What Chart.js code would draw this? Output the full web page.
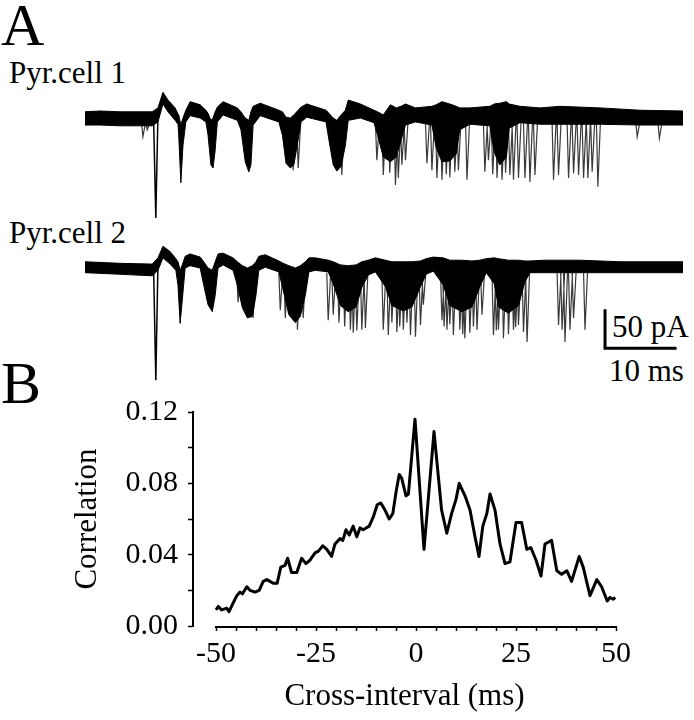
<!DOCTYPE html>
<html>
<head>
<meta charset="utf-8">
<script src="https://cdn.jsdelivr.net/npm/chart.js@4.4.1/dist/chart.umd.min.js"></script>
<style>
body{margin:0;background:#fff;}
#fig{position:relative;width:694px;height:720px;overflow:hidden;font-family:"Liberation Serif","Times New Roman",serif;color:#000;}
.lbl{position:absolute;line-height:1;white-space:nowrap;}
canvas{position:absolute;}
</style>
</head>
<body>
<div id="fig">
	<div class="lbl" style="left:1px;top:-5px;font-size:60px">A</div>
	<div class="lbl" style="left:9px;top:57px;font-size:31px">Pyr.cell 1</div>
	<div class="lbl" style="left:9px;top:217px;font-size:31px">Pyr.cell 2</div>
	<div class="lbl" style="left:612px;top:311px;font-size:31px">50 pA</div>
	<div class="lbl" style="left:609px;top:355px;font-size:31px">10 ms</div>
	<div class="lbl" style="left:1px;top:353px;font-size:60px">B</div>
	<canvas id="cell1" width="598" height="145" style="left:85px;top:83px"></canvas>
	<canvas id="cell2" width="598" height="145" style="left:85px;top:240px"></canvas>
	<canvas id="corrChart" width="694" height="340" style="left:0;top:380px"></canvas>
</div>
<script>
// panel A, cell 1: time (ms), upper / lower edge of the overlaid sweeps (pA)
var cell1T = [0,2.1,4.9,7.7,9.4,10.2,10.9,11.6,12.6,13.0,13.1,13.4,13.7,14.1,14.7,16.1,16.9,17.2,17.6,17.9,18.2,18.5,19.3,21.3,21.8,22.4,22.9,23.2,23.5,24.5,27.1,27.6,28.1,28.7,29.2,29.8,30.2,31.0,33.7,34.1,34.7,35.2,35.8,36.4,36.8,38.5,40.4,40.9,41.7,42.7,43.5,44.2,44.8,46.2,48.5,49.1,49.9,51.0,51.9,52.4,53.8,56.6,57.2,58.0,58.9,59.3,60.8,63.6,66.4,72.0,77.6,83.6];
var cell1Up = [8,9,8,8,8,13,33,23,13,5,4,-9,0,10,21,17,10,6,-3,0,8,14,21,13,8,0,-3,8,15,19,10,8,1,0,4,10,14,18,10,6,0,-3,4,10,23,18,10,8,4,17,13,15,18,13,15,17,21,18,15,13,13,15,18,19,21,18,15,13,15,13,10,9];
var cell1Lo = [-9,-9,-10,-10,-10,-5,18,8,-3,-8,-22,-83,-35,-5,3,0,-5,-22,-60,-64,-41,-5,4,-3,-15,-56,-69,-60,-9,3,-5,-22,-58,-64,-60,-28,-5,1,-5,-28,-60,-68,-62,-35,-3,0,-6,-22,-50,-56,-50,-28,-9,-5,-9,-38,-56,-55,-46,-15,-8,-10,-44,-60,-50,-13,-6,-8,-8,-8,-9,-9];
var cell1SpikeT = [8.1,8.7,29.1,29.8,35.9,40.8,41.7,42.6,43.4,43.8,44.3,44.8,47.8,48.5,49.2,49.9,50.5,51.0,51.7,52.2,53.4,55.9,56.4,57.0,57.6,58.3,58.8,59.4,59.9,60.6,61.5,62.2,62.9,65.5,66.2,67.6,68.3,69.0,69.7,70.3,70.9,71.7,77.2,80.3];
var cell1SpikeDepth = [-24,-15,-67,-64,-73,-54,-73,-70,-86,-77,-60,-54,-58,-67,-77,-79,-72,-76,-69,-67,-79,-69,-54,-72,-77,-79,-70,-73,-79,-77,-77,-82,-73,-79,-73,-77,-71,-73,-77,-77,-69,-88,-24,-26];

// panel A, cell 2
var cell2T = [0,4.9,9.4,10.2,10.9,11.9,12.7,13.0,13.3,13.6,14.0,14.7,16.1,16.6,17.2,17.8,18.2,18.6,19.3,20.7,21.3,22.0,22.7,23.4,23.9,24.3,25.2,27.1,27.7,28.5,29.4,30.1,30.8,31.3,32.2,34.0,34.7,35.7,36.8,37.9,38.7,39.6,40.6,42.0,42.9,44.5,45.7,46.9,47.7,48.7,50.1,51.0,52.7,54.1,55.2,56.1,57.2,57.8,59.2,60.6,61.5,62.2,64.3,69.2,74.8,83.6];
var cell2Up = [8,6,5,13,28,21,12,8,-3,4,15,18,14,8,0,-3,8,18,19,13,8,3,0,3,8,15,17,9,6,3,0,3,8,13,13,10,8,4,3,4,8,10,13,10,8,8,8,9,12,14,13,10,10,9,10,12,13,12,10,10,9,9,10,10,8,8];
var cell2Lo = [-6,-8,-10,-3,13,5,-3,-22,-71,-41,0,3,0,-22,-47,-56,-35,0,4,-3,-22,-51,-64,-62,-35,-3,1,-5,-28,-60,-70,-62,-35,-5,-3,-5,-20,-48,-56,-50,-25,-9,-5,-24,-48,-55,-50,-24,-8,-4,-22,-48,-56,-50,-24,-6,-20,-50,-58,-48,-18,-6,-6,-6,-6,-6];
var cell2SpikeT = [21.4,23.5,27.3,28.0,29.7,30.5,34.0,34.7,35.5,36.3,37.1,37.5,38.0,38.7,39.2,41.7,42.4,42.9,43.6,44.0,44.5,45.0,45.5,46.2,46.9,47.3,49.9,50.2,50.6,51.0,51.5,52.4,52.8,53.1,53.8,54.3,54.8,55.5,57.1,57.5,57.8,58.5,59.2,59.9,60.2,60.6,61.3,61.8,66.2,66.7,67.1,67.8,68.3,69.9];
var cell2SpikeDepth = [-44,-64,-54,-64,-79,-64,-67,-60,-70,-75,-79,-83,-80,-79,-77,-79,-86,-70,-82,-75,-79,-70,-86,-88,-73,-47,-67,-75,-79,-72,-86,-79,-85,-90,-83,-75,-79,-60,-86,-80,-79,-90,-85,-79,-76,-73,-82,-95,-73,-79,-95,-79,-64,-79];

// stimulus artifact
var artifactT = 9.9;
var cell1ArtifactDepth = -128;
var cell2ArtifactDepth = -144;

// scale bar: 10 ms x 50 pA
var scaleBarT = [72.7, 72.7, 82.7];
var scaleBarPA = [-53, -103, -103];

// panel B
var lagMs = [-50,-49.4,-48.6,-47.3,-46.75,-45.7,-44.8,-44.0,-43.4,-42.3,-41.5,-40.25,-39.2,-38.2,-37.3,-36.5,-35.7,-34.7,-33.8,-32.75,-32.1,-31.1,-29.8,-28.6,-27.5,-26.5,-25.25,-24.4,-23.3,-22.3,-21.1,-20.25,-19.0,-18.3,-17.5,-16.7,-15.7,-14.8,-14.0,-13.2,-11.7,-10.7,-9.7,-8.8,-7.75,-6.7,-5.8,-5.0,-4.2,-3.6,-2.5,-1.9,-0.25,2.0,4.5,6.4,7.7,8.9,10.0,10.8,12.25,13.5,14.75,15.75,16.7,17.7,18.5,19.75,21.0,22.25,23.5,25.0,26.4,27.7,28.7,30.0,31.25,32.25,33.9,35.2,36.4,37.7,38.9,40.8,41.8,43.5,45.2,46.4,47.8,48.5,49.3,49.8];
var corr = [0.009,0.011,0.009,0.010,0.008,0.013,0.017,0.019,0.018,0.022,0.020,0.019,0.020,0.025,0.026,0.025,0.024,0.024,0.033,0.034,0.038,0.030,0.030,0.038,0.035,0.037,0.041,0.042,0.045,0.043,0.039,0.046,0.049,0.048,0.054,0.051,0.056,0.050,0.055,0.054,0.056,0.061,0.068,0.069,0.065,0.060,0.063,0.075,0.085,0.083,0.073,0.074,0.116,0.043,0.109,0.065,0.052,0.063,0.071,0.080,0.073,0.065,0.050,0.039,0.056,0.063,0.074,0.065,0.046,0.035,0.036,0.058,0.058,0.043,0.044,0.037,0.028,0.046,0.048,0.031,0.029,0.031,0.025,0.039,0.033,0.017,0.026,0.022,0.014,0.016,0.015,0.016];
var xTickVals = [-50,-45,-40,-35,-30,-25,-20,-15,-10,-5,0,5,10,15,20,25,30,35,40,45,50];
var xLabelVals = [-50,-25,0,25,50];

Chart.defaults.font.family = '"Liberation Serif", "Times New Roman", serif';
Chart.defaults.color = '#000';

function pairs(xs, ys){
	var out = [];
	for (var i = 0; i < xs.length; i++) out.push({x: xs[i], y: ys[i]});
	return out;
}

// each spike: fast fall, slower return to baseline, then a break
function spikes(ts, ds){
	var out = [];
	for (var i = 0; i < ts.length; i++){
		out.push({x: ts[i] - 0.2, y: -6}, {x: ts[i], y: ds[i]}, {x: ts[i] + 0.35, y: -6}, {x: ts[i] + 0.35, y: null});
	}
	return out;
}

function traceChart(id, t, up, lo, spT, spD, artDepth, yMin, yMax, withBar){
	var sets = [
		{data: pairs(t, up), borderColor: '#000', borderWidth: 1, fill: false, order: 1},
		{data: pairs(t, lo), borderColor: '#000', borderWidth: 1, backgroundColor: '#000', fill: '-1', order: 1},
		{data: spikes(spT, spD), borderColor: '#3a3a3a', borderWidth: 1.2, fill: false, spanGaps: false, order: 2},
		{data: [{x: artifactT - 0.3, y: -6}, {x: artifactT, y: artDepth}, {x: artifactT + 0.3, y: 6}], borderColor: '#000', borderWidth: 1.5, fill: false, order: 0}
	];
	if (withBar){
		sets.push({data: pairs(scaleBarT, scaleBarPA), borderColor: '#000', borderWidth: 3, fill: false, order: 0, borderJoinStyle: 'miter'});
	}
	return new Chart(document.getElementById(id), {
		type: 'line',
		data: {datasets: sets},
		options: {
			responsive: false,
			animation: false,
			events: [],
			elements: {point: {radius: 0}, line: {tension: 0}},
			layout: {padding: 0},
			plugins: {legend: {display: false}, tooltip: {enabled: false}},
			scales: {
				x: {type: 'linear', display: false, min: 0, max: 83.6},
				y: {type: 'linear', display: false, min: yMin, max: yMax}
			}
		}
	});
}

traceChart('cell1', cell1T, cell1Up, cell1Lo, cell1SpikeT, cell1SpikeDepth, cell1ArtifactDepth, -141, 44.9, false);
traceChart('cell2', cell2T, cell2Up, cell2Lo, cell2SpikeT, cell2SpikeDepth, cell2ArtifactDepth, -150, 35.9, true);

// x axis line only spans -50..50, the y axis sits apart from it
var xAxisLine = {
	id: 'xAxisLine',
	afterDraw: function(chart){
		var sx = chart.scales.x, ctx = chart.ctx, y = chart.chartArea.bottom + 1;
		ctx.save();
		ctx.strokeStyle = '#000';
		ctx.lineWidth = 2;
		ctx.beginPath();
		ctx.moveTo(sx.getPixelForValue(-50) - 1, y);
		ctx.lineTo(sx.getPixelForValue(50) + 1, y);
		ctx.stroke();
		ctx.restore();
	}
};

new Chart(document.getElementById('corrChart'), {
	type: 'line',
	data: {
		datasets: [{
			data: pairs(lagMs, corr),
			borderColor: '#000',
			borderWidth: 3,
			fill: false,
			borderJoinStyle: 'round'
		}]
	},
	options: {
		responsive: false,
		animation: false,
		events: [],
		elements: {point: {radius: 0}, line: {tension: 0}},
		layout: {padding: {top: 32, right: 78, left: 0, bottom: 0}},
		plugins: {legend: {display: false}, tooltip: {enabled: false}},
		scales: {
			x: {
				type: 'linear',
				min: -55.75,
				max: 50,
				afterBuildTicks: function(s){ s.ticks = xTickVals.map(function(v){ return {value: v}; }); },
				afterFit: function(s){ s.height = 94; },
				border: {display: false},
				grid: {drawOnChartArea: false, drawTicks: true, tickLength: 5, tickColor: '#000', tickWidth: 1.5},
				ticks: {
					autoSkip: false,
					maxRotation: 0,
					padding: 5,
					font: {size: 30},
					callback: function(v){ return xLabelVals.indexOf(v) >= 0 ? String(v) : ''; }
				},
				title: {display: true, text: 'Cross-interval (ms)', font: {size: 31}, padding: {top: 0, bottom: 5}}
			},
			y: {
				type: 'linear',
				min: 0,
				max: 0.12,
				afterFit: function(s){ s.width = 193; },
				border: {display: true, color: '#000', width: 2},
				grid: {drawOnChartArea: false, drawTicks: true, tickLength: 5, tickColor: '#000', tickWidth: 1.5},
				ticks: {
					stepSize: 0.02,
					autoSkip: false,
					padding: 10,
					font: {size: 30},
					callback: function(v, i){ return i % 2 === 0 ? v.toFixed(2) : ''; }
				},
				title: {display: true, text: 'Correlation', font: {size: 31}, padding: {top: 69, bottom: 0}}
			}
		}
	},
	plugins: [xAxisLine]
});
</script>
</body>
</html>
